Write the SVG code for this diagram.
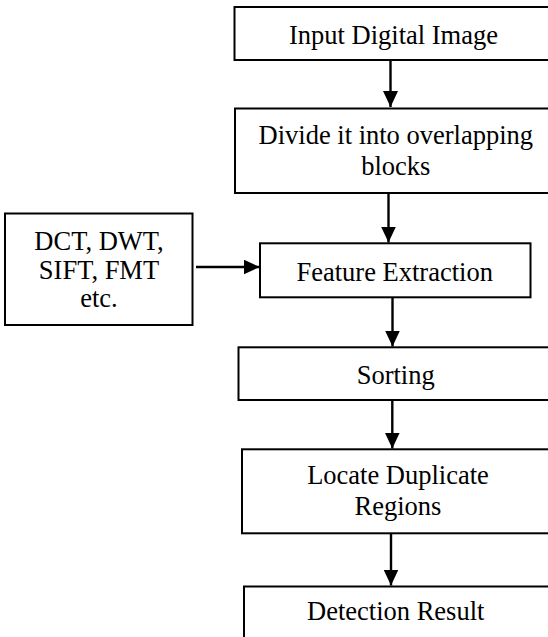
<svg xmlns="http://www.w3.org/2000/svg" width="548" height="637" viewBox="0 0 548 637">
  <style>
    .box { fill: #ffffff; stroke: #000000; stroke-width: 2; }
    .lbl { font-family: "Liberation Serif", "Times New Roman", serif; font-size: 26.5px; fill: #000000; text-anchor: middle; }
    .conn { stroke: #000000; stroke-width: 2.4; fill: none; marker-end: url(#arrow); }
  </style>
  <defs>
    <marker id="arrow" viewBox="0 0 16 15" refX="16" refY="7.5" markerWidth="16" markerHeight="15" orient="auto" markerUnits="userSpaceOnUse">
      <path d="M0,0 L16,7.5 L0,15 z" fill="#000000"/>
    </marker>
  </defs>
  <rect width="548" height="637" fill="#ffffff"/>

  <g id="node-input">
    <rect class="box" x="234.5" y="7" width="330" height="53"/>
    <text class="lbl" x="393.5" y="43.5">Input Digital Image</text>
  </g>
  <g id="node-divide">
    <rect class="box" x="235" y="108.5" width="330" height="84.5"/>
    <text class="lbl" x="395.8" y="143.5">Divide it into overlapping</text>
    <text class="lbl" x="395.8" y="175">blocks</text>
  </g>
  <g id="node-methods">
    <rect class="box" x="5" y="213.5" width="187.5" height="111.5"/>
    <text class="lbl" x="99" y="250">DCT, DWT,</text>
    <text class="lbl" x="99" y="279">SIFT, FMT</text>
    <text class="lbl" x="99" y="307">etc.</text>
  </g>
  <g id="node-feature">
    <rect class="box" x="260" y="243.3" width="270.5" height="54"/>
    <text class="lbl" x="394.7" y="281">Feature Extraction</text>
  </g>
  <g id="node-sorting">
    <rect class="box" x="238.5" y="347.3" width="330" height="52.7"/>
    <text class="lbl" x="395.7" y="383.5">Sorting</text>
  </g>
  <g id="node-locate">
    <rect class="box" x="242" y="449.3" width="330" height="84"/>
    <text class="lbl" x="398" y="484">Locate Duplicate</text>
    <text class="lbl" x="398" y="515">Regions</text>
  </g>
  <g id="node-detection">
    <rect class="box" x="244" y="586.5" width="330" height="80"/>
    <text class="lbl" x="395.7" y="620">Detection Result</text>
  </g>

  <g id="connectors">
    <line class="conn" x1="390.5" y1="60" x2="390.5" y2="107"/>
    <line class="conn" x1="388.5" y1="193" x2="388.5" y2="242.5"/>
    <line class="conn" x1="196" y1="267" x2="259.5" y2="267"/>
    <line class="conn" x1="392.5" y1="297.3" x2="392.5" y2="346.5"/>
    <line class="conn" x1="392.3" y1="400" x2="392.3" y2="448.5"/>
    <line class="conn" x1="391" y1="533.3" x2="391" y2="585.5"/>
  </g>
</svg>
